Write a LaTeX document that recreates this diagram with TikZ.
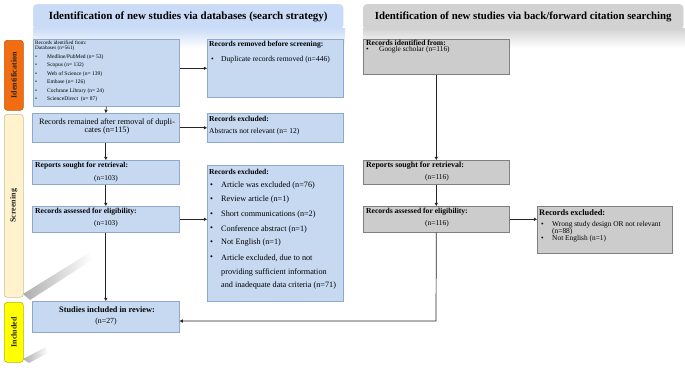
\documentclass[tikz,border=0pt]{standalone}
\usepackage{fontspec}
\setmainfont{Liberation Serif}
\usetikzlibrary{arrows.meta,fadings}
\definecolor{bfill}{HTML}{C6D9F1}
\definecolor{bline}{HTML}{8EA9CF}
\definecolor{hblue}{HTML}{C9DBF6}
\definecolor{gfill}{HTML}{CCCCCC}
\definecolor{gline}{HTML}{7F7F7F}
\definecolor{hgray}{HTML}{D2D2D2}
\definecolor{orng}{HTML}{F26C12}
\definecolor{orngline}{HTML}{C05A10}
\definecolor{scrfill}{HTML}{FFF2CC}
\definecolor{scrline}{HTML}{CDBF95}
\definecolor{yel}{HTML}{FFFF00}
\definecolor{yelline}{HTML}{B5B500}
\definecolor{lcol}{HTML}{262626}
\tikzset{
  bluebox/.style={draw=bline, fill=bfill, line width=0.6pt, inner sep=0pt, anchor=north west},
  graybox/.style={draw=gline, fill=gfill, line width=0.6pt, inner sep=0pt, anchor=north west},
  txt/.style={inner sep=0pt, anchor=west, text=black},
  ctxt/.style={inner sep=0pt, anchor=center, text=black},
  side/.style={rounded corners=3pt, line width=0.6pt, inner sep=0pt, anchor=north west, minimum width=19pt},
  arr/.style={draw=lcol, line width=0.7pt, -{Triangle[length=3.2pt,width=3.2pt]}},
  streak/.style={fill=black!32, path fading=east},
}
\newcommand{\fs}[1]{\fontsize{#1}{#1}\selectfont}
\begin{document}
\begin{tikzpicture}[x=1pt,y=-1pt]
\useasboundingbox (0,0) rectangle (685,367);
% header fades
\fill[top color=hblue, bottom color=white] (33,28) rectangle (345,48);
\fill[top color=hgray, bottom color=white] (363,28) rectangle (685,48);
% headers
\node[draw=hblue!80!white, fill=hblue, rounded corners=4pt, inner sep=0pt, anchor=north west,
  minimum width=310pt, minimum height=25pt] (h1) at (33,4) {};
\node[ctxt, font=\fs{11}\bfseries] (h1t) at (h1.center) {Identification of new studies via databases (search strategy)};
\node[draw=hgray, fill=hgray, rounded corners=4pt, inner sep=0pt, anchor=north west,
  minimum width=320pt, minimum height=25pt] (h2) at (363,4) {};
\node[ctxt, font=\fs{10.8}\bfseries] (h2t) at (h2.center) {Identification of new studies via back/forward citation searching};
% shadow streaks
\fill[streak] (23,294) -- (89,253) -- (92,260) -- (30,300) -- cycle;
\fill[streak] (23,359) -- (46,347) -- (48,353) -- (29,363) -- cycle;
% side labels
\node[side, draw=orngline, fill=orng, minimum height=70pt] (sid) at (4,40) {};
\node[ctxt, rotate=90, font=\fs{8}\bfseries, text=black!85] (sidt) at (sid.center) {Identification};
\node[side, draw=scrline, fill=scrfill, minimum height=183pt] (sscr) at (4,114) {};
\node[ctxt, rotate=90, font=\fs{8}\bfseries, text=black!85] (sscrt) at (sscr.center) {Screening};
\node[side, draw=yelline, fill=yel, minimum height=60pt] (sinc) at (4,302) {};
\node[ctxt, rotate=90, font=\fs{8}\bfseries, text=black!85] (sinct) at (sinc.center) {Included};
% left column boxes
\node[bluebox, minimum width=146pt, minimum height=67pt] (b1) at (33,39) {};
\node[txt, font=\fs{5.2}] (b1a) at (35,43) {Records identified from:};
\node[txt, font=\fs{5.2}] (b1b) at (35,48) {Databases (n=561)};
\foreach \i/\yy/\t in {1/57/{Medline/PubMed (n= 53)},2/65/{Scopus (n= 132)},3/74/{Web of Science (n= 139)},4/82/{Embase (n= 126)},5/91/{Cochrane Library (n= 24)},6/99/{ScienceDirect~ (n= 87)}}{
  \node[txt, font=\fs{5.5}] (b1d\i) at (35,\yy) {\textbullet};
  \node[txt, font=\fs{5.5}] (b1i\i) at (47,\yy) {\t};
}
\node[bluebox, minimum width=136pt, minimum height=58pt] (b2) at (207,39) {};
\node[txt, font=\fs{7.6}\bfseries] (b2a) at (209,45) {Records removed before screening:};
\node[txt, font=\fs{7.6}] (b2d) at (211,60) {\textbullet};
\node[txt, font=\fs{7.6}] (b2b) at (221,60) {Duplicate records removed (n=446)};

\node[bluebox, minimum width=147pt, minimum height=29pt] (b3) at (32,113) {};
\node[ctxt, font=\fs{8.2}] (b3a) at (107,122) {Records remained after removal of dupli-};
\node[ctxt, font=\fs{8.2}] (b3b) at (107,131) {cates (n=115)};
\node[bluebox, minimum width=136pt, minimum height=29pt] (b4) at (207,113) {};
\node[txt, font=\fs{7.6}\bfseries] (b4a) at (209,119) {Records excluded:};
\node[txt, font=\fs{7.5}] (b4b) at (209,132) {Abstracts not relevant (n= 12)};

\node[bluebox, minimum width=147pt, minimum height=24pt] (b5) at (32,160) {};
\node[txt, font=\fs{7.6}\bfseries] (b5a) at (35,166) {Reports sought for retrieval:};
\node[ctxt, font=\fs{7.3}] (b5b) at (106,179) {(n=103)};
\node[bluebox, minimum width=147pt, minimum height=26pt] (b6) at (32,206) {};
\node[txt, font=\fs{7.6}\bfseries] (b6a) at (35,212) {Records assessed for eligibility:};
\node[ctxt, font=\fs{7.3}] (b6b) at (106,224) {(n=103)};

\node[bluebox, minimum width=136pt, minimum height=136pt] (b7) at (207,165) {};
\node[txt, font=\fs{7.6}\bfseries] (b7a) at (209,172) {Records excluded:};
\foreach \i/\yy/\t in {1/186/{Article was excluded (n=76)},2/200/{Review article (n=1)},3/215/{Short communications (n=2)},4/229/{Conference abstract (n=1)},5/243/{Not English (n=1)},6/258/{Article excluded, due to not}}{
  \node[txt, font=\fs{8.2}] (b7d\i) at (210,\yy) {\textbullet};
  \node[txt, font=\fs{8.2}] (b7i\i) at (221,\yy) {\t};
}
\node[txt, font=\fs{8.2}] (b7i7) at (221,272) {providing sufficient information};
\node[txt, font=\fs{8.2}] (b7i8) at (221,286) {and inadequate data criteria (n=71)};

\node[bluebox, minimum width=147pt, minimum height=31pt] (b8) at (32,301) {};
\node[ctxt, font=\fs{8.3}\bfseries] (b8a) at (107,310) {Studies included in review:};
\node[ctxt, font=\fs{7.8}] (b8b) at (106,322) {(n=27)};

% right column boxes
\node[graybox, minimum width=146pt, minimum height=35pt] (r1) at (363,39) {};
\node[txt, font=\fs{7.6}\bfseries] (r1a) at (366,43) {Records identified from:};
\node[txt, font=\fs{7.4}] (r1d) at (366,50) {\textbullet};
\node[txt, font=\fs{7.4}] (r1b) at (379,50) {Google scholar (n=116)};
\node[graybox, minimum width=146pt, minimum height=24pt] (r2) at (363,160) {};
\node[txt, font=\fs{8}\bfseries] (r2a) at (366,166) {Reports sought for retrieval:};
\node[ctxt, font=\fs{7.5}] (r2b) at (437,178) {(n=116)};
\node[graybox, minimum width=146pt, minimum height=26pt] (r3) at (363,206) {};
\node[txt, font=\fs{7.6}\bfseries] (r3a) at (366,212) {Records assessed for eligibility:};
\node[ctxt, font=\fs{7.5}] (r3b) at (437,224) {(n=116)};
\node[graybox, minimum width=135pt, minimum height=47pt] (r4) at (537,206) {};
\node[txt, font=\fs{8.4}\bfseries] (r4a) at (539,213) {Records excluded:};
\node[txt, font=\fs{7.4}] (r4d1) at (541,225) {\textbullet};
\node[txt, font=\fs{7.4}] (r4i1) at (552,225) {Wrong study design OR not relevant};
\node[txt, font=\fs{7.4}] (r4i2) at (552,232) {(n=88)};
\node[txt, font=\fs{7.4}] (r4d2) at (541,239) {\textbullet};
\node[txt, font=\fs{7.4}] (r4i3) at (552,239) {Not English (n=1)};

% connectors
\draw[arr] (b1.east |- b2.west) -- (b2.west);
\draw[arr] (b1.south) -- (b3.north);
\draw[arr] (b3.east) -- (b4.west);
\draw[arr] (b3.south) -- (b5.north);
\draw[arr] (b5.south) -- (b6.north);
\draw[arr] (b6.east) -- (b7.west |- b6.east);
\draw[arr] (b6.south) -- (b8.north);
\draw[arr] (r1.south) -- (r2.north);
\draw[arr] (r2.south) -- (r3.north);
\draw[arr] (r3.east) -- (r4.west |- r3.east);
\coordinate (turn) at (436,321);
\draw[arr] (r3.south) -- (turn) -- (b8.east |- turn);
\end{tikzpicture}
\end{document}
